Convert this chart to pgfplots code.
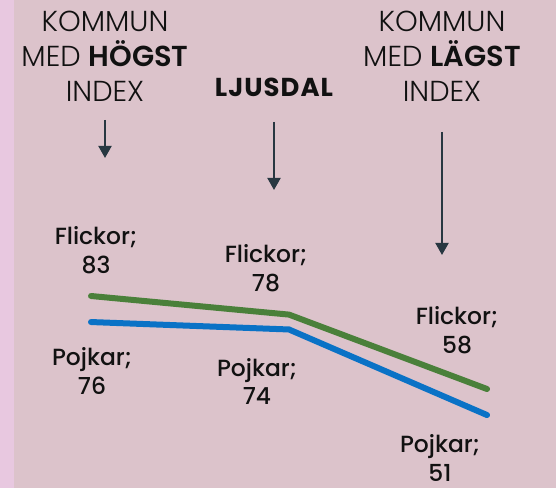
\documentclass[border=0pt]{standalone}
\usepackage{pgfplots}
\usepackage{pgfplotstable}
\pgfplotsset{compat=1.18}
\usetikzlibrary{arrows.meta}
\usepackage{fontspec}
\setmainfont{Poppins}
\newfontfamily\lightfont{Poppins Light}
\newfontfamily\medfont{Poppins Medium}
\newfontfamily\widebold[LetterSpace=4]{Poppins Bold}
\definecolor{bg}{RGB}{220,195,203}
\definecolor{strip}{RGB}{232,200,224}
\definecolor{arr}{RGB}{40,55,65}
\definecolor{gline}{RGB}{74,128,58}
\definecolor{bline}{RGB}{10,114,198}
\definecolor{txt}{RGB}{17,17,17}

\pgfplotstableread{
x y dx dy
0 83 5 46
1 78 -23 46
2 58 -30 59
}\flick
\pgfplotstableread{
x y dx dy
0 76 1 -49
1 74 -32 -52
2 51 -47 -43
}\pojk

\begin{document}
\begin{tikzpicture}[x=1bp,y=1bp]
\fill[bg] (0,0) rectangle (556,488);
\fill[strip] (0,0) rectangle (14,488);
\useasboundingbox (0,0) rectangle (556,488);
% headers
\begin{scope}[every node/.style={anchor=base, text=txt, inner sep=0pt}]
\node[font=\lightfont\fontsize{29}{34}\selectfont] at (105,456) {KOMMUN};
\node[font=\lightfont\fontsize{29}{34}\selectfont] at (105,421) {MED {\bfseries HÖGST}};
\node[font=\lightfont\fontsize{29}{34}\selectfont] at (105,386) {INDEX};
\node[font=\widebold\fontsize{26}{30}\selectfont] at (274,391) {LJUSDAL};
\node[font=\lightfont\fontsize{29}{34}\selectfont] at (442,456) {KOMMUN};
\node[font=\lightfont\fontsize{29}{34}\selectfont] at (442,421) {MED {\bfseries LÄGST}};
\node[font=\lightfont\fontsize{29}{34}\selectfont] at (442,386) {INDEX};
\end{scope}
\draw[arr, line width=2bp, -{Triangle[width=13bp,length=12bp]}] (105,368) -- (105,330);
\draw[arr, line width=2bp, -{Triangle[width=13bp,length=12bp]}] (274,366) -- (274,298);
\draw[arr, line width=2bp, -{Triangle[width=13bp,length=12bp]}] (442,356) -- (442,233);
\begin{axis}[at={(0,0)}, anchor=south west, width=556bp, height=488bp,
  scale only axis, hide axis, clip=false,
  xmin=-0.4596, xmax=2.3485, ymin=31.39, ymax=162.57,
  /pgf/number format/assume math mode=true,
  visualization depends on={\thisrow{dx} \as \dx},
  visualization depends on={\thisrow{dy} \as \dy},
  every node near coord/.append style={align=center, anchor=center, text=txt,
     font=\medfont\fontsize{23.5}{29}\selectfont, xshift=\dx*1bp, yshift=\dy*1bp},
]
\addplot[gline, line width=6bp, line cap=round, mark=none,
  nodes near coords={Flickor;\\\pgfmathprintnumber{\pgfplotspointmeta}}] table[x=x,y=y] {\flick};
\addplot[bline, line width=6bp, line cap=round, mark=none,
  nodes near coords={Pojkar;\\\pgfmathprintnumber{\pgfplotspointmeta}}] table[x=x,y=y] {\pojk};
\end{axis}
\end{tikzpicture}
\end{document}
